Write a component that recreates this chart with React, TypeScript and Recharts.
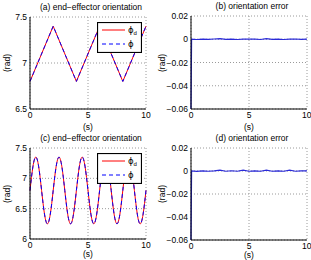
import { LineChart, Line, XAxis, YAxis, CartesianGrid, Legend } from 'recharts';

// (a) triangular reference orientation
const timeA = [0, 2, 4, 6, 8, 10];
const phiDesiredA = [6.8, 7.4, 6.8, 7.4, 6.8, 7.4];
const phiActualA = [6.8, 7.4, 6.8, 7.4, 6.8, 7.4];

// (c) sinusoidal reference orientation
const timeC = [
    0, 0.25, 0.5, 0.75, 1, 1.25, 1.5, 1.75, 2, 2.25, 2.5, 2.75, 3, 3.25, 3.5, 3.75,
    4, 4.25, 4.5, 4.75, 5, 5.25, 5.5, 5.75, 6, 6.25, 6.5, 6.75, 7, 7.25, 7.5, 7.75,
    8, 8.25, 8.5, 8.75, 9, 9.25, 9.5, 9.75, 10,
];
const phiDesiredC = [
    6.8, 7.19, 7.35, 7.19, 6.8, 6.41, 6.25, 6.41, 6.8, 7.19, 7.35, 7.19, 6.8, 6.41, 6.25, 6.41,
    6.8, 7.19, 7.35, 7.19, 6.8, 6.41, 6.25, 6.41, 6.8, 7.19, 7.35, 7.19, 6.8, 6.41, 6.25, 6.41,
    6.8, 7.19, 7.35, 7.19, 6.8, 6.41, 6.25, 6.41, 6.8,
];
const phiActualC = [
    6.8, 7.19, 7.35, 7.19, 6.8, 6.41, 6.25, 6.41, 6.8, 7.19, 7.35, 7.19, 6.8, 6.41, 6.25, 6.41,
    6.8, 7.19, 7.35, 7.19, 6.8, 6.41, 6.25, 6.41, 6.8, 7.19, 7.35, 7.19, 6.8, 6.41, 6.25, 6.41,
    6.8, 7.19, 7.35, 7.19, 6.8, 6.41, 6.25, 6.41, 6.8,
];

// (b), (d) orientation errors
const timeErr = [0, 0.05, 0.5, 1, 1.5, 2, 2.5, 3, 3.5, 4, 4.5, 5, 5.5, 6, 6.5, 7, 7.5, 8, 8.5, 9, 9.5, 10];
const errB = [-0.06, 0, -0.0002, 0.0001, -0.0001, 0.0002, 0.0006, -0.0001, 0.0001, -0.0002, 0.0001,
    0.0002, 0.0001, -0.0002, 0.0006, -0.0001, 0.0001, -0.0002, 0.0001, 0.0002, -0.0001, 0.0001];
const errD = [-0.06, 0, -0.0003, 0.0001, -0.0002, 0.0001, 0.0007, -0.0002, 0.0002, -0.0002, 0.0007,
    -0.0002, 0.0001, -0.0002, 0.0007, -0.0002, 0.0001, -0.0002, 0.0007, -0.0002, 0.0001, 0.0001];

const timeTicks = [0, 5, 10];
const ticksA = [6.5, 7, 7.5];
const ticksC = [6, 6.5, 7, 7.5];
const ticksErr = [-0.06, -0.04, -0.02, 0, 0.02];

const FONT = '"Liberation Sans", Arial, sans-serif';
const tickStyle = { fontSize: 8.5, fill: '#000', fontFamily: FONT };

const fmtErr = (v: number) => (v === 0 ? '0' : v.toFixed(2).replace('-', '\u2212'));
const fmtOri = (v: number) => String(v);

function OrientationLegend() {
    return (
        <svg width={45} height={31} style={{ display: 'block' }}>
            <rect x={0.5} y={0.5} width={44} height={30} fill="#fff" stroke="#000" strokeWidth={1.2} />
            <line x1={5} y1={8} x2={28} y2={8} stroke="#ff0000" strokeWidth={1} />
            <text x={31} y={11} fontSize={8.5} fontFamily={'"DejaVu Sans", sans-serif'}>
                ϕ<tspan fontSize={6} dy={2} fontFamily={FONT}>d</tspan>
            </text>
            <line x1={5} y1={22} x2={28} y2={22} stroke="#0000ff" strokeWidth={1} strokeDasharray="4 3" />
            <text x={31} y={25} fontSize={8.5} fontFamily={'"DejaVu Sans", sans-serif'}>ϕ</text>
        </svg>
    );
}

interface PanelProps {
    left: number;
    top: number;
    width: number;
    height: number;
    margin: { top: number; right: number; bottom: number; left: number };
    yWidth: number;
    xHeight: number;
    sLabelDy: number;
    data: { [key: string]: number }[];
    yDomain: [number, number];
    yTicks: number[];
    yFormat: (v: number) => string;
    title: string;
    kind: 'orientation' | 'error';
    curve: 'linear' | 'natural';
}

function Panel(p: PanelProps) {
    const plotLeft = p.margin.left + p.yWidth;
    const plotRight = p.width - p.margin.right;
    const plotTop = p.margin.top;
    const plotBottom = p.height - p.margin.bottom - p.xHeight;
    const cx = (plotLeft + plotRight) / 2;
    const text = { position: 'absolute' as const, fontFamily: FONT, color: '#000', whiteSpace: 'nowrap' as const, transform: 'translate(-50%, -50%)', lineHeight: 1 };
    return (
        <div style={{ position: 'absolute', left: p.left, top: p.top, width: p.width, height: p.height }}>
            <LineChart width={p.width} height={p.height} data={p.data} margin={p.margin}>
                <CartesianGrid strokeDasharray="1 2" stroke="#9a9a9a" />
                <XAxis
                    dataKey="t"
                    type="number"
                    domain={[0, 10]}
                    ticks={timeTicks}
                    height={p.xHeight}
                    tick={tickStyle}
                    tickLine={false}
                    tickSize={0}
                    tickMargin={3}
                    axisLine={{ stroke: '#000' }}
                />
                <YAxis
                    type="number"
                    domain={p.yDomain}
                    ticks={p.yTicks}
                    width={p.yWidth}
                    tick={tickStyle}
                    tickFormatter={p.yFormat}
                    tickLine={false}
                    tickSize={0}
                    tickMargin={3}
                    axisLine={{ stroke: '#000' }}
                />
                <XAxis xAxisId="top" orientation="top" type="number" domain={[0, 10]} height={0} tick={false} tickLine={false} axisLine={{ stroke: '#000' }} />
                <YAxis yAxisId="right" orientation="right" type="number" domain={p.yDomain} width={0} tick={false} tickLine={false} axisLine={{ stroke: '#000' }} />
                {p.kind === 'orientation' ? (
                    <>
                        <Line type={p.curve} dataKey="phiD" stroke="#ff0000" strokeWidth={1} dot={false} isAnimationActive={false} />
                        <Line type={p.curve} dataKey="phi" stroke="#0000ff" strokeWidth={1} strokeDasharray="4 3" dot={false} isAnimationActive={false} />
                        <Legend
                            layout="vertical"
                            align="center"
                            verticalAlign="middle"
                            content={() => <OrientationLegend />}
                            wrapperStyle={{ left: 97, top: p.margin.top + 5, width: 45, height: 31 }}
                        />
                    </>
                ) : (
                    <Line type="linear" dataKey="err" stroke="#2a2ad8" strokeWidth={1.2} dot={false} isAnimationActive={false} />
                )}
            </LineChart>
            <div style={{ ...text, left: cx + 3, top: plotTop - 10, fontSize: 8.5 }}>{p.title}</div>
            <div style={{ ...text, left: cx, top: plotBottom + p.sLabelDy, fontSize: 8.5 }}>(s)</div>
            <div style={{ ...text, left: plotLeft - (p.yWidth - 7), top: (plotTop + plotBottom) / 2, fontSize: 8.5, transform: 'translate(-50%, -50%) rotate(-90deg)' }}>(rad)</div>
        </div>
    );
}

export default function App() {
    const dataA = timeA.map((t, i) => ({ t, phiD: phiDesiredA[i], phi: phiActualA[i] }));
    const dataC = timeC.map((t, i) => ({ t, phiD: phiDesiredC[i], phi: phiActualC[i] }));
    const dataB = timeErr.map((t, i) => ({ t, err: errB[i] }));
    const dataD = timeErr.map((t, i) => ({ t, err: errD[i] }));

    return (
        <div style={{ position: 'absolute', left: 0, top: 0, width: 311, height: 260, background: '#fff', overflow: 'hidden' }}>
            <Panel
                left={0} top={0} width={155} height={130}
                margin={{ top: 17, right: 9, bottom: 0, left: 0 }}
                yWidth={30} xHeight={21} sLabelDy={18}
                data={dataA} yDomain={[6.5, 7.5]} yTicks={ticksA} yFormat={fmtOri}
                title="(a) end−effector orientation" kind="orientation" curve="linear"
            />
            <Panel
                left={155} top={0} width={156} height={130}
                margin={{ top: 16, right: 4, bottom: 0, left: 0 }}
                yWidth={36} xHeight={21} sLabelDy={18}
                data={dataB} yDomain={[-0.06, 0.02]} yTicks={ticksErr} yFormat={fmtErr}
                title="(b) orientation error" kind="error" curve="linear"
            />
            <Panel
                left={0} top={130} width={155} height={130}
                margin={{ top: 18, right: 9, bottom: 0, left: 0 }}
                yWidth={30} xHeight={21} sLabelDy={15}
                data={dataC} yDomain={[6, 7.5]} yTicks={ticksC} yFormat={fmtOri}
                title="(c) end−effector orientation" kind="orientation" curve="natural"
            />
            <Panel
                left={155} top={130} width={156} height={130}
                margin={{ top: 18, right: 4, bottom: 0, left: 0 }}
                yWidth={36} xHeight={20} sLabelDy={15}
                data={dataD} yDomain={[-0.06, 0.02]} yTicks={ticksErr} yFormat={fmtErr}
                title="(d) orientation error" kind="error" curve="linear"
            />
        </div>
    );
}
